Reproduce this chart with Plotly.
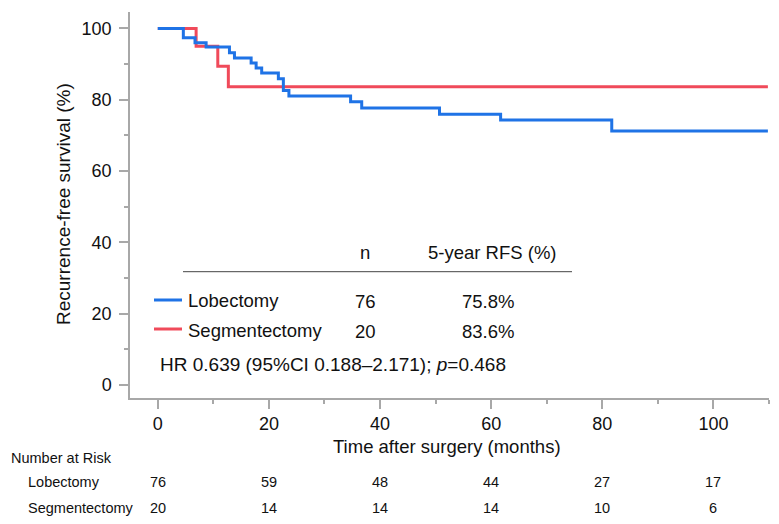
import plotly.graph_objects as go

# ---------------- data ----------------
groups = ["Lobectomy", "Segmentectomy"]
colors = ["#1f73e6", "#f04a5a"]

lob_time = [0, 4.6, 6.7, 8.7, 12.9, 13.8, 16.8, 17.7, 18.7, 21.7, 22.6, 23.6,
            34.7, 36.7, 50.7, 61.7, 81.7, 109.8]
lob_surv = [100, 97.4, 96.0, 94.8, 93.2, 91.7, 90.3, 88.9, 87.5, 85.9, 82.6, 81.0,
            79.4, 77.7, 75.9, 74.3, 71.2, 71.2]

seg_time = [0, 6.9, 10.8, 12.7, 109.8]
seg_surv = [100, 95.0, 89.4, 83.6, 83.6]

n_vals = [76, 20]
rfs5 = ["75.8%", "83.6%"]
hr_text = "HR 0.639 (95%CI 0.188\u20132.171); <i>p</i>=0.468"

risk_times = [0, 20, 40, 60, 80, 100]
risk_lob = [76, 59, 48, 44, 27, 17]
risk_seg = [20, 14, 14, 14, 10, 6]

x_ticks = [0, 20, 40, 60, 80, 100]
y_ticks = [0, 20, 40, 60, 80, 100]

# ---------------- layout geometry ----------------
W, H = 779, 524
L, R, T, B = 130, 10, 12, 126
PW = W - L - R
PH = H - T - B
FONT = "Liberation Sans, Arial, Helvetica, sans-serif"
AX = "#a8a8a8"


def px(xp):
    return (xp - L) / PW


def py(yp):
    return (H - B - yp) / PH


fig = go.Figure()
fig.add_trace(go.Scatter(x=seg_time, y=seg_surv, mode="lines", line_shape="hv",
                         line=dict(color=colors[1], width=3), name=groups[1],
                         showlegend=False))
fig.add_trace(go.Scatter(x=lob_time, y=lob_surv, mode="lines", line_shape="hv",
                         line=dict(color=colors[0], width=3), name=groups[0],
                         showlegend=False))

ann = []
shapes = []


def text(x, y, s, size=18.5, xanchor="center", xref="paper", **kw):
    ann.append(dict(x=x, y=y, xref=xref, yref="paper", text=s, showarrow=False,
                    xanchor=xanchor, yanchor="middle",
                    font=dict(family=FONT, size=size, color="#111"), **kw))


# axis titles
text(px(447), py(446), "Time after surgery (months)", size=18.5)
text(px(63), py(204), "Recurrence-free survival (%)", size=19, textangle=-90)

# in-plot summary table
text(px(365), py(252), "n")
text(px(492), py(252), "5-year RFS (%)")
shapes.append(dict(type="line", xref="paper", yref="paper", x0=px(183), x1=px(572),
                   y0=py(271.7), y1=py(271.7), line=dict(color="#444", width=1)))
row_y = [300, 330]
line_y = [300, 329]
for i, g in enumerate(groups):
    shapes.append(dict(type="line", xref="paper", yref="paper", x0=px(154), x1=px(182),
                       y0=py(line_y[i]), y1=py(line_y[i]),
                       line=dict(color=colors[i], width=3)))
    text(px(186), py(row_y[i]), g, xanchor="left")
    text(px(365), py(row_y[i] + 1), str(n_vals[i]))
    text(px(488), py(row_y[i] + 1), rfs5[i])
text(px(158), py(364), hr_text, size=19, xanchor="left")

# number at risk
text(px(9), py(458), "Number at Risk", size=14.5, xanchor="left")
text(px(26), py(482.5), groups[0], size=14.5, xanchor="left")
text(px(26), py(507.5), groups[1], size=14.5, xanchor="left")
for t, a, b in zip(risk_times, risk_lob, risk_seg):
    text(t, py(482.5), str(a), size=14.5, xref="x")
    text(t, py(507.5), str(b), size=14.5, xref="x")

axis_common = dict(showline=True, linecolor=AX, linewidth=1.5, ticks="outside",
                   tickcolor=AX, tickwidth=1.5, ticklen=9, showgrid=False,
                   zeroline=False, tickfont=dict(family=FONT, size=18, color="#111"),
                   minor=dict(dtick=10, ticks="outside", ticklen=4, tickcolor=AX,
                              tickwidth=1.5, showgrid=False))

fig.update_layout(
    width=W, height=H,
    margin=dict(l=L, r=R, t=T, b=B, pad=0),
    paper_bgcolor="white", plot_bgcolor="white",
    xaxis=dict(range=[-5, 110], tickvals=x_ticks, ticklabelstandoff=0, **axis_common),
    yaxis=dict(range=[-3.7, 104.6], tickvals=y_ticks, ticklabelstandoff=4, **axis_common),
    annotations=ann, shapes=shapes, showlegend=False,
)

fig.write_html("out.html")
